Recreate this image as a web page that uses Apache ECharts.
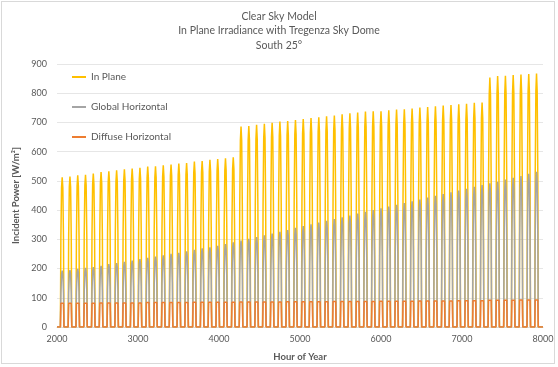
<!DOCTYPE html>
<html>
<head>
<meta charset="utf-8">
<script src="https://cdn.jsdelivr.net/npm/echarts@6/dist/echarts.min.js"></script>
<style>
  html, body { margin: 0; padding: 0; background: #fff; }
  #frame { position: absolute; left: 1px; top: 1px; width: 554px; height: 363px; border: 1px solid #d9d9d9; box-sizing: border-box; }
  #chart { position: absolute; left: 0; top: 0; width: 558px; height: 367px; }
</style>
</head>
<body>
<div id="frame"></div>
<div id="chart"></div>
<script>
// Hour of year at the middle of each plotted clear-sky day
const dayHours = [
  2064, 2160, 2256, 2352, 2448, 2544, 2640, 2736, 2832, 2928,
  3024, 3120, 3216, 3312, 3408, 3504, 3600, 3696, 3792, 3888,
  3984, 4080, 4176, 4272, 4368, 4464, 4560, 4656, 4752, 4848,
  4944, 5040, 5136, 5232, 5328, 5424, 5520, 5616, 5712, 5808,
  5904, 6000, 6096, 6192, 6288, 6384, 6480, 6576, 6672, 6768,
  6864, 6960, 7056, 7152, 7248, 7344, 7440, 7536, 7632, 7728,
  7824, 7920
];

// Daily peak irradiance on the tilted plane [W/m²]
const inPlanePeak = [
  512, 515, 519, 521, 525, 530, 533, 536, 540, 542,
  545, 549, 550, 553, 556, 559, 561, 566, 568, 572,
  575, 577, 581, 686, 688, 692, 695, 699, 703, 705,
  708, 712, 715, 718, 721, 724, 728, 731, 734, 737,
  738, 738, 742, 744, 745, 748, 751, 753, 755, 758,
  760, 762, 764, 767, 768, 854, 859, 860, 862, 864,
  866, 867
];

// Daily peak global horizontal irradiance [W/m²]
const globalPeak = [
  193, 195, 199, 202, 205, 209, 215, 219, 223, 227,
  232, 237, 241, 245, 250, 254, 259, 264, 269, 273,
  278, 284, 290, 296, 302, 308, 314, 320, 326, 332,
  339, 345, 351, 357, 363, 369, 375, 381, 388, 394,
  400, 406, 412, 418, 424, 430, 436, 443, 449, 455,
  461, 467, 473, 480, 486, 492, 497, 505, 511, 517,
  524, 531
];

// Daily peak diffuse horizontal irradiance [W/m²]
const diffusePeak = [
  84, 84, 84, 84, 84, 85, 85, 85, 85, 85,
  85, 86, 86, 86, 86, 86, 86, 87, 87, 87,
  87, 87, 87, 88, 88, 88, 88, 88, 88, 89,
  89, 89, 89, 89, 89, 90, 90, 90, 90, 90,
  90, 91, 91, 91, 91, 91, 92, 92, 92, 92,
  92, 93, 93, 93, 93, 94, 94, 94, 94, 95,
  95, 95
];

// Shape of one day: hour offsets from the day's middle and share of the peak
const dayOffsets = [-22, -16, -8, 0, 8, 16, 22];
const directShape = [0, 0.6, 0.93, 1, 0.93, 0.6, 0];
const diffuseShape = [0, 0.97, 1, 1, 1, 0.97, 0];

const axisStart = 2000;
const axisEnd = 8000;

function buildSeries(peaks, shape) {
  const pts = [[axisStart, 0]];
  dayHours.forEach((h, i) => {
    dayOffsets.forEach((off, j) => {
      pts.push([h + off, peaks[i] * shape[j]]);
    });
  });
  pts.push([axisEnd, 0]);
  return pts;
}

const textColor = '#595959';
const fontFam = 'Lato, "Open Sans", sans-serif';

const chart = echarts.init(document.getElementById('chart'), null, { renderer: 'canvas' });
chart.setOption({
  animation: false,
  backgroundColor: 'transparent',
  title: {
    text: 'Clear Sky Model\nIn Plane Irradiance with Tregenza Sky Dome\nSouth 25°',
    left: 'center',
    top: 4,
    textStyle: { fontFamily: fontFam, fontSize: 10.5, fontWeight: 'normal', color: textColor, lineHeight: 14.5 }
  },
  legend: {
    orient: 'vertical',
    left: 72,
    top: 71,
    padding: 0,
    itemWidth: 14,
    itemHeight: 2,
    itemGap: 18,
    icon: 'rect',
    textStyle: { fontFamily: fontFam, fontSize: 10, color: textColor, lineHeight: 12 },
    data: ['In Plane', 'Global Horizontal', 'Diffuse Horizontal']
  },
  grid: { left: 57, right: 15, top: 64, bottom: 40, containLabel: false },
  xAxis: {
    type: 'value',
    min: axisStart,
    max: axisEnd,
    interval: 1000,
    name: 'Hour of Year',
    nameLocation: 'middle',
    nameGap: 25,
    nameTextStyle: { fontFamily: fontFam, fontSize: 9.5, fontWeight: 'bold', color: textColor },
    axisLine: { show: true, lineStyle: { color: '#d9d9d9' } },
    axisTick: { show: false },
    splitLine: { show: false },
    axisLabel: { fontFamily: fontFam, fontSize: 9, color: textColor, margin: 8, formatter: v => String(v) }
  },
  yAxis: {
    type: 'value',
    min: 0,
    max: 900,
    interval: 100,
    name: 'Incident Power [W/m²]',
    nameLocation: 'middle',
    nameGap: 36,
    nameRotate: 90,
    nameTextStyle: { fontFamily: fontFam, fontSize: 9.5, fontWeight: 'bold', color: textColor },
    axisLine: { show: false },
    axisTick: { show: false },
    splitLine: { lineStyle: { color: '#e6e6e6', width: 1 } },
    axisLabel: { fontFamily: fontFam, fontSize: 9, color: textColor, margin: 10 }
  },
  series: [
    {
      name: 'In Plane', type: 'line', showSymbol: false, symbol: 'none',
      data: buildSeries(inPlanePeak, directShape),
      lineStyle: { color: '#FFC000', width: 1.5 }, itemStyle: { color: '#FFC000' }
    },
    {
      name: 'Global Horizontal', type: 'line', showSymbol: false, symbol: 'none',
      data: buildSeries(globalPeak, directShape),
      lineStyle: { color: '#A5A5A5', width: 1.5 }, itemStyle: { color: '#A5A5A5' }
    },
    {
      name: 'Diffuse Horizontal', type: 'line', showSymbol: false, symbol: 'none',
      data: buildSeries(diffusePeak, diffuseShape),
      lineStyle: { color: '#ED7D31', width: 1.5 }, itemStyle: { color: '#ED7D31' }
    }
  ]
});
</script>
</body>
</html>
